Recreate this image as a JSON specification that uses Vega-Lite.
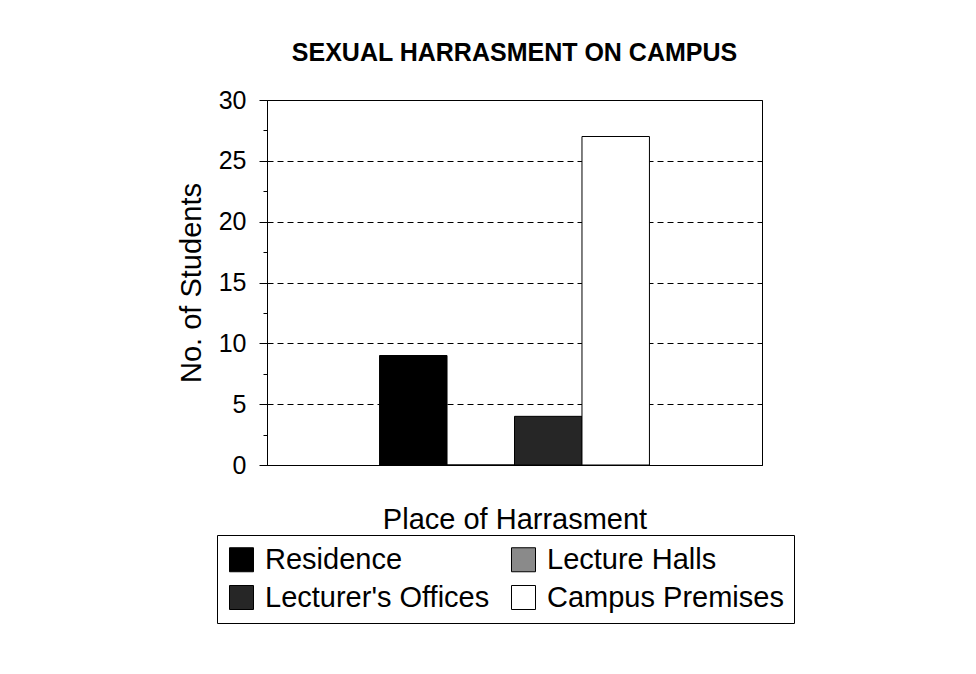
{
  "$schema": "https://vega.github.io/schema/vega-lite/v6.json",
  "width": 495,
  "height": 365,
  "autosize": {"type": "none"},
  "padding": {"left": 267, "top": 100, "right": 214, "bottom": 209},
  "background": "white",
  "title": {
    "text": "SEXUAL HARRASMENT ON CAMPUS",
    "font": "Liberation Sans",
    "fontSize": 25,
    "fontWeight": "bold",
    "color": "black",
    "anchor": "middle",
    "offset": 22
  },
  "data": {
    "values": [
      {"group": "Place of Harrasment", "place": "Residence", "students": 9},
      {"group": "Place of Harrasment", "place": "Lecture Halls", "students": 0},
      {"group": "Place of Harrasment", "place": "Lecturer's Offices", "students": 4},
      {"group": "Place of Harrasment", "place": "Campus Premises", "students": 27}
    ]
  },
  "mark": {"type": "bar", "stroke": "black", "strokeWidth": 1},
  "encoding": {
    "x": {
      "field": "group",
      "type": "nominal",
      "scale": {"paddingInner": 0, "paddingOuter": 0.417},
      "axis": {
        "title": "Place of Harrasment",
        "labels": false,
        "ticks": false,
        "domainColor": "black",
        "titleFont": "Liberation Sans",
        "titleFontSize": 29,
        "titleFontWeight": "normal",
        "titleColor": "black",
        "titlePadding": 40
      }
    },
    "xOffset": {
      "field": "place",
      "type": "nominal",
      "sort": ["Residence", "Lecture Halls", "Lecturer's Offices", "Campus Premises"],
      "scale": {"paddingInner": 0, "paddingOuter": 0}
    },
    "y": {
      "field": "students",
      "type": "quantitative",
      "scale": {"domain": [0, 30], "nice": false},
      "axis": {
        "values": [0, 2.5, 5, 7.5, 10, 12.5, 15, 17.5, 20, 22.5, 25, 27.5, 30],
        "labelExpr": "datum.value % 5 === 0 ? datum.label : ''",
        "title": "No. of Students",
        "grid": true,
        "gridDash": [6, 4],
        "gridColor": "black",
        "gridOpacity": {"condition": {"test": "datum.value % 5 !== 0", "value": 0}, "value": 1},
        "tickColor": "black",
        "tickSize": {"condition": {"test": "datum.value % 5 !== 0", "value": 4}, "value": 8},
        "domainColor": "black",
        "labelFont": "Liberation Sans",
        "labelFontSize": 25,
        "labelColor": "black",
        "labelPadding": 13,
        "titleFont": "Liberation Sans",
        "titleFontSize": 29,
        "titleFontWeight": "normal",
        "titleColor": "black",
        "titlePadding": 12
      }
    },
    "fill": {
      "field": "place",
      "type": "nominal",
      "scale": {
        "domain": ["Residence", "Lecturer's Offices", "Lecture Halls", "Campus Premises"],
        "range": ["#000000", "#262626", "#8a8a8a", "#ffffff"]
      },
      "legend": {
        "orient": "none",
        "legendX": -50,
        "legendY": 435,
        "title": null,
        "columns": 2,
        "columnPadding": 19,
        "rowPadding": 8,
        "padding": 10,
        "strokeColor": "black",
        "fillColor": "white",
        "symbolType": "square",
        "symbolSize": 576,
        "symbolStrokeColor": "black",
        "symbolStrokeWidth": 1,
        "symbolOpacity": 1,
        "labelFont": "Liberation Sans",
        "labelFontSize": 29,
        "labelColor": "black",
        "labelOffset": 9,
        "labelLimit": 400
      }
    }
  },
  "config": {
    "view": {"stroke": "black", "strokeWidth": 1}
  }
}
